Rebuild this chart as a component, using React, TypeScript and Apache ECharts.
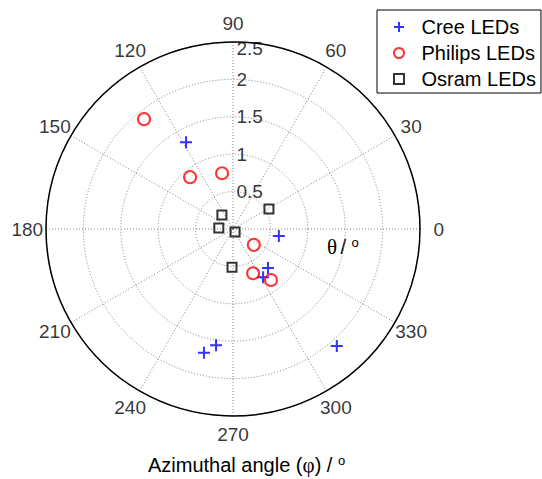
import React, { useEffect, useRef } from 'react';
import * as echarts from 'echarts';

// Angular grid (degrees) and radial rings
const ANGLE_TICKS = [0, 30, 60, 90, 120, 150, 180, 210, 240, 270, 300, 330];
const RING_TICKS = [0.5, 1, 1.5, 2, 2.5];
const R_MAX = 2.5;

// Measurements: radial value (rho) and azimuthal angle (degrees)
const creeRho = [1.32, 0.62, 0.7, 0.76, 1.57, 1.7, 2.09];
const creeTheta = [118.4, 351.4, 311.9, 302, 261.7, 256.8, 311.6];

const philipsRho = [1.89, 0.9, 0.76, 0.35, 0.65, 0.85];
const philipsTheta = [129, 129.6, 101.1, 322.7, 294.4, 306.7];

const osramRho = [0.55, 0.24, 0.19, 0.05, 0.51];
const osramTheta = [29.1, 128.2, 176, 304, 268.5];

const SERIES_NAMES = ['Cree LEDs', 'Philips LEDs', 'Osram LEDs'];

const FONT = '"Liberation Sans", Arial, Helvetica, sans-serif';
const SERIF = '"Liberation Serif", "DejaVu Serif", serif';

const pairs = (rho: number[], theta: number[]) => rho.map((r, i) => [r, theta[i]]);

export default function App() {
  const ref = useRef<HTMLDivElement>(null);

  useEffect(() => {
    if (!ref.current) return;
    const chart = echarts.init(ref.current, undefined, { renderer: 'svg' });
    const grid = { color: '#808080', type: [1, 2] as number[], width: 1 };

    chart.setOption({
      animation: false,
      backgroundColor: '#fff',
      polar: { center: [233, 229], radius: 187 },
      angleAxis: {
        type: 'value',
        min: 0,
        max: 360,
        interval: 30,
        startAngle: 0,
        clockwise: false,
        axisLine: { show: true, lineStyle: { color: '#000', width: 1.5 } },
        axisTick: { show: false },
        axisLabel: { show: false },
        splitLine: { show: true, lineStyle: grid },
      },
      radiusAxis: {
        type: 'value',
        min: 0,
        max: R_MAX,
        interval: 0.5,
        axisLine: { show: false },
        axisTick: { show: false },
        axisLabel: { show: false },
        splitLine: { show: true, lineStyle: grid },
      },
      legend: {
        data: SERIES_NAMES,
        orient: 'vertical',
        left: 377,
        top: 10,
        padding: [7, 5, 4, 16],
        itemWidth: 35,
        itemHeight: 10,
        itemGap: 6,
        borderColor: '#000',
        borderWidth: 1,
        borderRadius: 0,
        backgroundColor: '#fff',
        textStyle: { color: '#000', fontSize: 20, fontFamily: FONT },
        selectedMode: false,
      },
      series: [
        {
          name: 'Cree LEDs',
          type: 'scatter',
          coordinateSystem: 'polar',
          data: pairs(creeRho, creeTheta),
          symbol: 'path://M6,0V12M0,6H12',
          symbolSize: 12,
          itemStyle: { color: 'rgba(0,0,0,0)', borderColor: '#0000ff', borderWidth: 2 },
          z: 5,
        },
        {
          name: 'Philips LEDs',
          type: 'scatter',
          coordinateSystem: 'polar',
          data: pairs(philipsRho, philipsTheta),
          symbol: 'circle',
          symbolSize: 12,
          itemStyle: { color: 'rgba(0,0,0,0)', borderColor: '#ff0000', borderWidth: 2 },
          z: 5,
        },
        {
          name: 'Osram LEDs',
          type: 'scatter',
          coordinateSystem: 'polar',
          data: pairs(osramRho, osramTheta),
          symbol: 'path://M0,0H10V10H0Z',
          symbolSize: 9,
          itemStyle: { color: 'rgba(0,0,0,0)', borderColor: '#000', borderWidth: 2 },
          z: 5,
        },
        {
          // angle labels, centred just outside the outer circle
          name: 'angleLabels',
          type: 'scatter',
          coordinateSystem: 'polar',
          clip: false,
          silent: true,
          symbolSize: 1,
          itemStyle: { color: 'rgba(0,0,0,0)' },
          data: ANGLE_TICKS.map((a) => [R_MAX * 1.1, a]),
          label: {
            show: true,
            position: 'inside',
            formatter: (p: any) => String(p.value[1]),
            color: '#000',
            fontSize: 19,
            fontFamily: FONT,
          },
        },
        {
          // ring labels along the vertical spoke
          name: 'ringLabels',
          type: 'scatter',
          coordinateSystem: 'polar',
          clip: false,
          silent: true,
          symbolSize: 1,
          itemStyle: { color: 'rgba(0,0,0,0)' },
          data: RING_TICKS.map((r) => [r, 90]),
          label: {
            show: true,
            position: 'right',
            distance: 3,
            offset: [0, 1],
            formatter: (p: any) => String(p.value[0]),
            color: '#000',
            fontSize: 19,
            fontFamily: FONT,
          },
          // the outermost ring label sits a little inside the outer circle
          labelLayout: (params: any) =>
            params.dataIndex === RING_TICKS.length - 1 ? { dy: 6 } : {},
        },
      ],
      graphic: [
        {
          type: 'text',
          left: 327,
          top: 236,
          style: {
            text: '{g|θ} {t|/ }{s|o}',
            rich: {
              g: { fontFamily: SERIF, fontSize: 21, fill: '#000' },
              t: { fontFamily: FONT, fontSize: 20, fill: '#000' },
              s: { fontFamily: FONT, fontSize: 13, fill: '#000', verticalAlign: 'top' },
            },
          },
        },
        {
          type: 'text',
          left: 148,
          top: 454,
          style: {
            text: '{t|Azimuthal angle (}{g|φ}{t|) / }{s|o}',
            rich: {
              g: { fontFamily: SERIF, fontSize: 21, fill: '#000' },
              t: { fontFamily: FONT, fontSize: 20, fill: '#000' },
              s: { fontFamily: FONT, fontSize: 13, fill: '#000', verticalAlign: 'top' },
            },
          },
        },
      ],
    });

    return () => chart.dispose();
  }, []);

  return (
    <div
      ref={ref}
      style={{ position: 'fixed', left: 0, top: 0, width: 542, height: 479, background: '#fff' }}
    />
  );
}
